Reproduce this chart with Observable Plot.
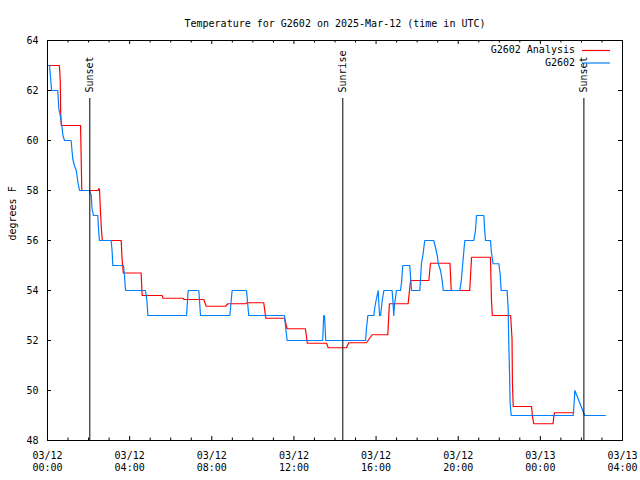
<!DOCTYPE html>
<html><head><meta charset="utf-8">
<script src="https://cdn.jsdelivr.net/npm/d3@7"></script>
<script src="https://cdn.jsdelivr.net/npm/@observablehq/plot@0.6"></script>
<style>body{margin:0;background:#fff} svg{display:block}</style>
</head><body><div id="chart"></div>
<script>
// ---- data (hours since 03/12 00:00 UTC, degrees F) ----
const seriesNames = ["G2602 Analysis", "G2602"];
const seriesColors = ["#ff0000", "#0080ff"];

const analysisHours = [0.00,0.58,0.62,0.64,0.67,1.61,1.64,1.67,2.47,2.50,2.53,2.56,2.62,2.67,3.59,3.62,3.69,4.56,4.61,5.58,5.63,6.61,6.64,7.61,7.73,8.67,8.78,9.64,9.72,10.53,10.63,11.54,11.67,12.56,12.65,13.59,13.67,14.56,14.67,15.53,15.81,16.57,16.65,17.56,17.68,18.57,18.65,19.60,19.66,20.56,20.65,21.57,21.62,21.66,22.55,22.62,22.64,22.68,23.57,23.62,23.68,24.62,24.66,24.69,25.60];
const analysisTemps = [63.0,63.0,62.4,61.2,60.6,60.6,59.3,58.0,58.0,58.07,58.07,57.5,56.5,56.0,56.0,55.4,54.7,54.7,53.8,53.8,53.69,53.69,53.64,53.64,53.37,53.37,53.47,53.47,53.51,53.51,52.89,52.89,52.47,52.47,51.89,51.89,51.71,51.71,51.91,51.91,52.23,52.23,53.47,53.47,54.4,54.4,55.09,55.09,54.0,54.0,55.33,55.33,53.6,53.0,53.0,52.07,50.27,49.36,49.36,48.93,48.67,48.67,49.0,49.11,49.11];

const stationHours = [0.00,0.10,0.20,0.50,0.55,0.62,0.70,0.75,0.83,1.15,1.23,1.31,1.40,1.48,1.56,2.04,2.13,2.17,2.24,2.45,2.48,2.53,3.10,3.15,3.18,3.70,3.75,3.80,4.77,4.84,4.89,6.77,6.85,7.37,7.45,8.88,8.99,9.69,9.80,11.54,11.60,11.67,13.40,13.45,13.49,13.55,15.49,15.53,15.60,15.89,15.94,16.00,16.05,16.10,16.17,16.22,16.30,16.38,16.78,16.83,16.86,16.90,16.95,16.99,17.19,17.24,17.30,17.64,17.68,17.73,18.13,18.16,18.21,18.29,18.37,18.81,18.89,18.98,19.03,19.14,19.22,19.27,20.08,20.15,20.22,20.32,20.76,20.84,20.89,21.25,21.28,21.33,21.57,21.62,21.70,21.98,22.05,22.09,22.38,22.43,22.46,22.50,22.53,22.58,25.60,25.63,25.66,25.68,26.16,27.17];
const stationTemps = [63.0,63.0,62.0,62.0,61.27,61.0,60.6,60.2,60.0,60.0,59.27,59.0,58.8,58.33,58.0,58.0,57.8,57.27,57.0,57.0,56.53,56.0,56.0,55.53,55.0,55.0,54.6,54.0,54.0,53.6,53.0,53.0,54.0,54.0,53.0,53.0,54.0,54.0,53.0,53.0,52.5,52.0,52.0,53.0,53.0,52.0,52.0,52.47,53.0,53.0,53.33,53.6,53.8,54.0,53.0,53.0,53.6,54.0,54.0,53.47,53.0,53.47,53.73,54.0,54.0,54.33,55.0,55.0,54.53,54.0,54.0,54.4,55.07,55.47,56.0,56.0,55.73,55.4,55.07,54.8,54.4,54.0,54.0,54.4,55.07,56.0,56.0,56.4,57.0,57.0,56.5,56.0,56.0,55.5,55.07,55.07,54.6,54.0,54.0,53.33,52.0,50.67,49.47,49.0,49.0,49.33,49.7,50.0,49.0,49.0];

const eventNames = ["Sunset", "Sunrise", "Sunset"];
const eventHours = [2.06, 14.38, 26.12];

const yTicks = [48, 50, 52, 54, 56, 58, 60, 62, 64];
const xMajorTicks = [0, 4, 8, 12, 16, 20, 24, 28];
const xTickLabels = ["03/12\n00:00","03/12\n04:00","03/12\n08:00","03/12\n12:00","03/12\n16:00","03/12\n20:00","03/13\n00:00","03/13\n04:00"];
const xMinorTicks = d3.range(0, 29).filter(h => h % 4 !== 0);

const titleText = "Temperature for G2602 on 2025-Mar-12 (time in UTC)";
const yLabelText = "degrees F";

// ---- layout ----
const W = 640, H = 480, mL = 47, mR = 18, mT = 40, mB = 40;
const iw = W - mL - mR, ih = H - mT - mB;
const font = "DejaVu Sans Mono";

const rows = [
  ...analysisHours.map((t, i) => ({series: seriesNames[0], t, v: analysisTemps[i]})),
  ...stationHours.map((t, i) => ({series: seriesNames[1], t, v: stationTemps[i]}))
];

const plot = Plot.plot({
  width: W, height: H,
  marginLeft: mL, marginRight: mR, marginTop: mT, marginBottom: mB,
  style: {fontFamily: font, fontSize: "10px", color: "#000", background: "#fff", overflow: "visible"},
  x: {domain: [0, 28], axis: null},
  y: {domain: [48, 64], axis: null},
  color: {domain: seriesNames, range: seriesColors},
  marks: [
    Plot.line(rows, {x: "t", y: "v", z: "series", stroke: "series", strokeWidth: 1.2, curve: "linear"}),
    Plot.ruleX(eventHours, {x: d => d, y1: 61.68, y2: 48, stroke: "#000", strokeWidth: 1}),
    Plot.text(eventHours, {x: d => d, y: 61.92, text: (d, i) => eventNames[i], rotate: -90, textAnchor: "start", fill: "#000"}),
    // ticks (inward, mirrored)
    Plot.tickX(xMajorTicks, {x: d => d, insetTop: ih - 4, stroke: "#000"}),
    Plot.tickX(xMajorTicks, {x: d => d, insetBottom: ih - 4, stroke: "#000"}),
    Plot.tickX(xMinorTicks, {x: d => d, insetTop: ih - 2.5, stroke: "#000"}),
    Plot.tickX(xMinorTicks, {x: d => d, insetBottom: ih - 2.5, stroke: "#000"}),
    Plot.tickY(yTicks, {y: d => d, insetRight: iw - 4, stroke: "#000"}),
    Plot.tickY(yTicks, {y: d => d, insetLeft: iw - 4, stroke: "#000"}),
    Plot.frame({stroke: "#000"}),
    // tick labels
    Plot.text(yTicks, {y: d => d, frameAnchor: "left", dx: -9, textAnchor: "end", text: d => String(d), fill: "#000"}),
    Plot.text(xMajorTicks, {x: d => d, frameAnchor: "bottom", dy: 20.5, text: (d, i) => xTickLabels[i], lineHeight: 1.2, lineAnchor: "middle", fill: "#000"}),
    // titles
    Plot.text([titleText], {frameAnchor: "top", dy: -21, text: d => d, fill: "#000"}),
    Plot.text([yLabelText], {frameAnchor: "left", dx: -35, rotate: -90, text: d => d, fill: "#000"})
  ]
});

// legend (top right, inside frame)
const svg = d3.select(plot);
const lg = svg.append("g").attr("font-family", font).attr("font-size", 10);
seriesNames.forEach((name, i) => {
  const y = mT + 10 + i * 12.5;
  lg.append("text").attr("x", W - mR - 47).attr("y", y).attr("dy", "0.32em")
    .attr("text-anchor", "end").attr("fill", "#000").text(name);
  lg.append("line").attr("x1", W - mR - 40).attr("x2", W - mR - 12)
    .attr("y1", y + 0.5).attr("y2", y + 0.5).attr("stroke", seriesColors[i]).attr("stroke-width", 1.2);
});

document.getElementById("chart").appendChild(plot);
</script>
</body></html>
